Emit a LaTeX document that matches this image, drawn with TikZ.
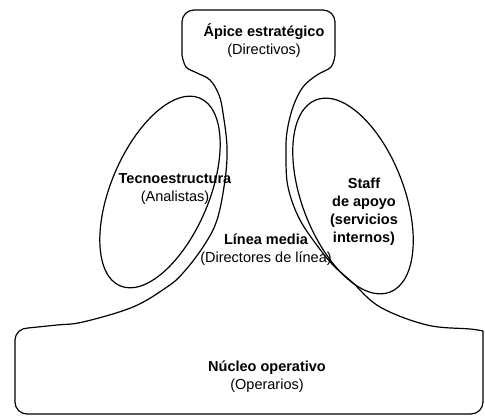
\documentclass[tikz,border=0pt]{standalone}
\usepackage{fontspec}
\setmainfont{Liberation Sans}
\usetikzlibrary{positioning}

\begin{document}
\begin{tikzpicture}[x=1pt, y=1pt,
  font=\fontsize{14.5}{18}\selectfont,
  part/.style={align=center, inner sep=1pt},
  outline/.style={line width=1.2pt, line join=round},
  unit/.style={line width=1.2pt}]
\useasboundingbox (0,0) rectangle (485,417);
% apex, middle line and operating core as one outline
\draw[outline] (182,362) -- (182,395) arc[start angle=180, end angle=90, radius=12pt]
  -- (323,407) arc[start angle=90, end angle=0, radius=12pt] -- (335,362)
  -- plot[smooth, tension=0.6] coordinates {(335,362) (331,350) (317,342) (303,330) (293,310)
     (287,285) (286,262) (288,230) (300,197) (322,165) (336,149) (352,135) (380,110) (427,92)
     (470,88) (483,86)}
  -- (483,15) arc[start angle=0, end angle=-90, radius=12pt] -- (27,3)
  arc[start angle=270, end angle=180, radius=12pt] -- (15,77) to[out=90, in=180] (28,89)
  -- plot[smooth, tension=0.6] coordinates {(28,89) (57,92) (83,95) (133,110) (167,130) (183,144)
     (203,170) (217,197) (225,237) (227,270) (223,304) (219,322) (210,337) (197,344)
     (186,350) (182,362)} -- cycle;
% the two staff units
\draw[unit, rotate around={67:(160,225)}] (160,225) ellipse [x radius=102pt, y radius=49pt];
\draw[unit, rotate around={111:(353,221)}] (353,221) ellipse [x radius=103pt, y radius=51pt];
\node[part] (apice) at (264,376) {\textbf{Ápice estratégico}\\(Directivos)};
\node[part] (tecno) at (175,228) {\textbf{Tecnoestructura}\\(Analistas)};
\node[part] (staff) at (364,205) {\textbf{Staff}\\\textbf{de apoyo}\\\textbf{(servicios}\\\textbf{internos)}};
\node[part] (linea) at (266,167) {\textbf{Línea media}\\(Directores de línea)};
\node[part] (nucleo) at (267,40) {\textbf{Núcleo operativo}\\(Operarios)};
\end{tikzpicture}
\end{document}
